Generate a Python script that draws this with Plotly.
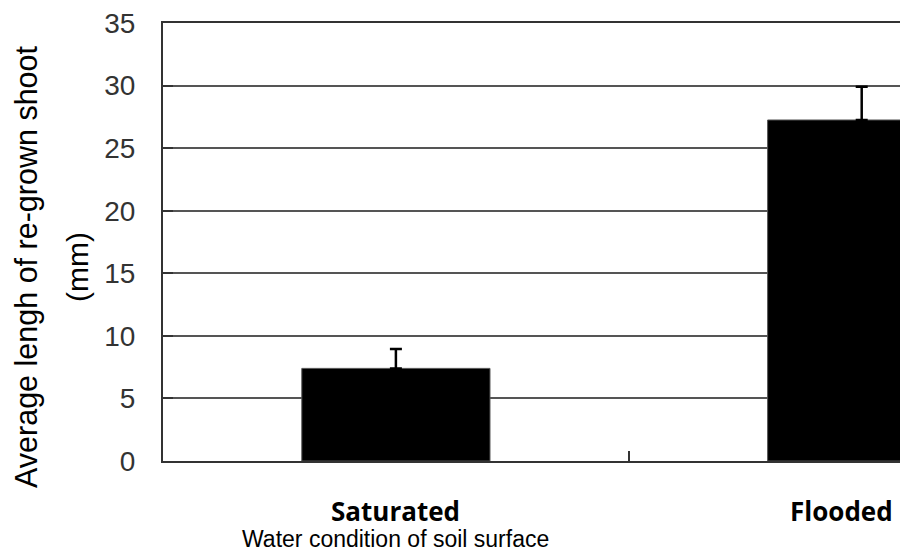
import plotly.graph_objects as go

categories = ["Saturated", "Flooded"]
mean_length = [7.4, 27.25]
error_plus = [1.55, 2.65]
y_ticks = [0, 5, 10, 15, 20, 25, 30, 35]

x_title = "Water condition of soil surface"
y_title_line1 = "Average lengh of re-grown shoot"
y_title_line2 = "(mm)"

x_idx = list(range(len(categories)))

fig = go.Figure()
fig.add_trace(go.Bar(
    x=x_idx, y=mean_length, width=0.404,
    marker=dict(color="black", line=dict(color="#555", width=1)),
    error_y=dict(type="data", array=error_plus, arrayminus=[0, 0], symmetric=False,
                 color="black", thickness=2.5, width=6),
    showlegend=False,
))

label_shift = [0, -20]
annotations = []
for i, c in enumerate(categories):
    annotations.append(dict(
        x=i, xref="x", y=0, yref="paper", yanchor="middle", yshift=-50,
        xshift=label_shift[i], text="<b>%s</b>" % c, showarrow=False,
        font=dict(family="Open Sans", size=26, color="black")))
annotations.append(dict(
    x=0, xref="x", y=0, yref="paper", yanchor="middle", yshift=-78,
    text=x_title, showarrow=False,
    font=dict(family="Liberation Sans", size=23, color="black")))
annotations.append(dict(
    x=0, xref="paper", xshift=-136, y=0.443, yref="paper", xanchor="center", yanchor="middle",
    text=y_title_line1, textangle=-90, showarrow=False,
    font=dict(family="Liberation Sans", size=30.5, color="black")))
annotations.append(dict(
    x=0, xref="paper", xshift=-85, y=0.443, yref="paper", xanchor="center", yanchor="middle",
    text=y_title_line2, textangle=-90, showarrow=False,
    font=dict(family="Liberation Sans", size=30, color="black")))

fig.update_layout(
    width=900, height=542,
    margin=dict(l=155, r=0, t=15, b=89),
    paper_bgcolor="white", plot_bgcolor="white",
    annotations=annotations,
    xaxis=dict(range=[-0.5, 1.0994], tickvals=[0.5], ticks="inside", ticklen=10,
               tickcolor="#333", tickwidth=1.5, showticklabels=False,
               showline=True, linecolor="#333", linewidth=2, mirror=True,
               showgrid=False, zeroline=False),
    yaxis=dict(range=[0, 35], tickvals=y_ticks, ticks="inside", ticklen=10,
               tickcolor="#333", tickwidth=1.5,
               showgrid=True, gridcolor="#555", gridwidth=1.5,
               showline=True, linecolor="#333", linewidth=2, zeroline=False,
               tickfont=dict(family="Liberation Sans", size=28, color="#333"),
               ticklabelstandoff=20, ticklabeloverflow="allow"),
)

fig.write_html("out.html")
